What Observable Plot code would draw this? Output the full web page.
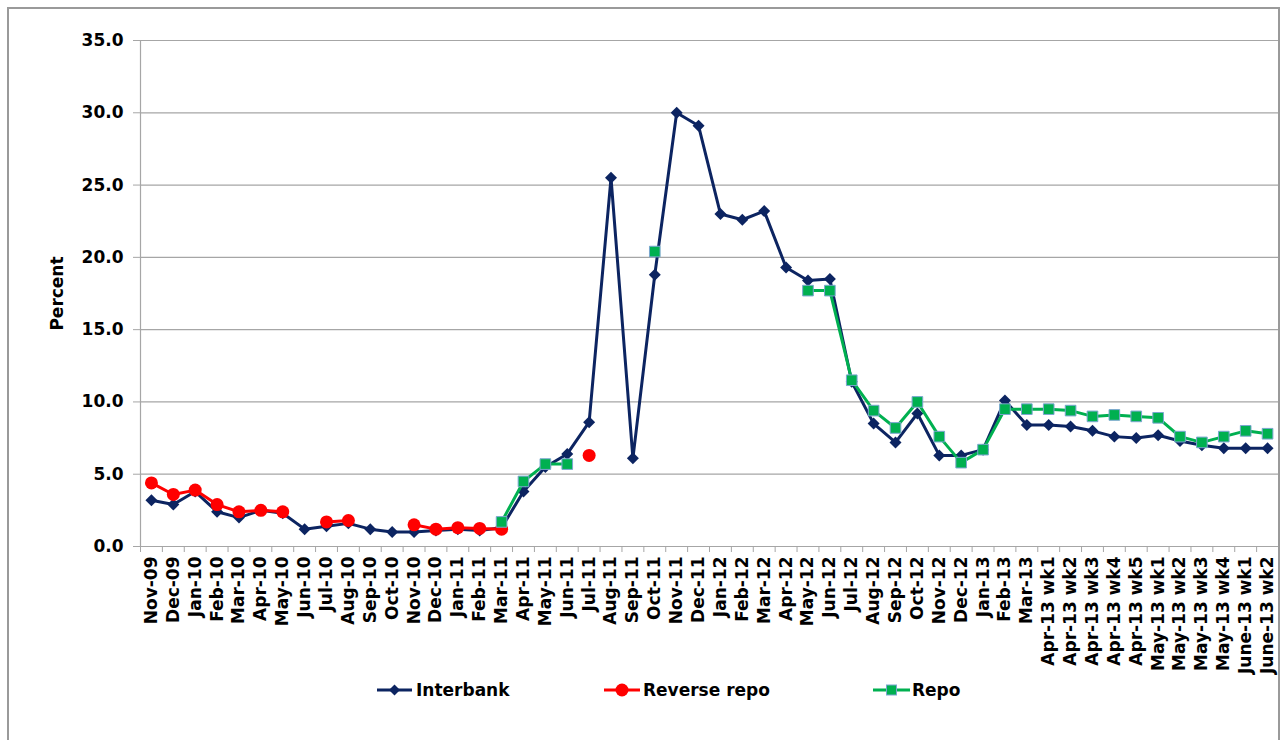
<!DOCTYPE html>
<html><head><meta charset="utf-8">
<script src="https://cdn.jsdelivr.net/npm/d3@7"></script>
<script src="https://cdn.jsdelivr.net/npm/@observablehq/plot@0.6"></script>
<style>
body{margin:0;background:#fff;font-family:"DejaVu Sans",sans-serif;}
#wrap{position:relative;width:1284px;height:740px;overflow:hidden;background:#fff;}
#frame{position:absolute;left:7px;top:7px;width:1273px;height:760px;border:2px solid #9a9a9a;box-sizing:border-box;}
#chart{position:absolute;left:0;top:0;}
#legend{position:absolute;top:678px;left:0;width:1284px;height:24px;font:bold 17px "DejaVu Sans",sans-serif;color:#000;}
.item{position:absolute;top:0;display:flex;align-items:center;height:24px;white-space:nowrap;}
.item svg{margin-right:2px;}
</style></head>
<body>
<div id="wrap">
  <div id="frame"></div>
  <div id="chart"></div>
  <div id="legend"></div>
</div>
<script>
const categories = ["Nov-09","Dec-09","Jan-10","Feb-10","Mar-10","Apr-10","May-10","Jun-10","Jul-10","Aug-10","Sep-10","Oct-10","Nov-10","Dec-10","Jan-11","Feb-11","Mar-11","Apr-11","May-11","Jun-11","Jul-11","Aug-11","Sep-11","Oct-11","Nov-11","Dec-11","Jan-12","Feb-12","Mar-12","Apr-12","May-12","Jun-12","Jul-12","Aug-12","Sep-12","Oct-12","Nov-12","Dec-12","Jan-13","Feb-13","Mar-13","Apr-13 wk1","Apr-13 wk2","Apr-13 wk3","Apr-13 wk4","Apr-13 wk5","May-13 wk1","May-13 wk2","May-13 wk3","May-13 wk4","June-13 wk1","June-13 wk2"];

const interbank = [3.2,2.9,3.8,2.4,2.0,2.5,2.3,1.2,1.4,1.6,1.2,1.0,1.0,1.1,1.2,1.1,1.3,
  3.8,5.5,6.4,8.6,25.5,6.1,18.8,30.0,29.1,
  23.0,22.6,23.2,19.3,18.4,18.5,11.4,8.5,7.2,9.2,6.3,6.3,
  6.7,10.1,8.4,8.4,8.3,8.0,7.6,7.5,7.7,7.3,7.0,6.8,6.8,6.8];

const reverseRepo = [4.4,3.6,3.9,2.9,2.4,2.5,2.4,null,1.7,1.8,null,null,1.5,1.2,1.3,1.25,1.2,
  null,null,null,6.3,null,null,null,null,null,
  null,null,null,null,null,null,null,null,null,null,null,null,
  null,null,null,null,null,null,null,null,null,null,null,null,null,null];

const repo = [null,null,null,null,null,null,null,null,null,null,null,null,null,null,null,null,1.7,
  4.5,5.7,5.7,null,null,null,20.4,null,null,
  null,null,null,null,17.7,17.7,11.5,9.4,8.2,10.0,7.6,5.8,
  6.7,9.5,9.5,9.5,9.4,9.0,9.1,9.0,8.9,7.6,7.2,7.6,8.0,7.8];

const yTicks = [0,5,10,15,20,25,30,35];

const seriesNames = ["Interbank","Reverse repo","Repo"];
const colors = {navy:"#0c2461", red:"#ff0000", green:"#00b050", sqEdge:"#7aa6cf", grid:"#a6a6a6"};

const rows = categories.map((c,i)=>({c, ib: interbank[i], rr: reverseRepo[i], rp: repo[i]}));

const W=1284, H=740, mL=140, mR=6, mT=40, mB=194;
const step = (W-mL-mR)/categories.length;

const chart = Plot.plot({
  width:W, height:H,
  marginLeft:mL, marginRight:mR, marginTop:mT, marginBottom:mB,
  style:{fontFamily:"'DejaVu Sans', sans-serif", fontWeight:"bold", fontSize:"17px", color:"#000", background:"transparent", overflow:"visible"},
  x:{type:"point", domain:categories, padding:0.5},
  y:{domain:[0,35]},
  marks:[
    Plot.gridY(yTicks,{stroke:colors.grid, strokeOpacity:1, strokeWidth:1.2}),
    Plot.ruleY([0],{stroke:colors.grid, strokeWidth:1.2}),
    Plot.ruleX([categories[0]],{dx:-step/2, stroke:colors.grid, strokeWidth:1.2}),
    Plot.axisY(yTicks,{tickSize:7, tickPadding:10, tickFormat:d=>d.toFixed(1), stroke:colors.grid, label:null, fontSize:17, fontWeight:"bold"}),
    Plot.axisX({tickSize:6, tickFormat:()=>"", dx:-step/2, stroke:colors.grid, label:null}),
    Plot.axisX({tickSize:0, tickPadding:10, tickRotate:-90, label:null, fontSize:17, fontWeight:"bold"}),
    Plot.text(["Percent"],{frameAnchor:"left", rotate:-90, dx:-83, textAnchor:"middle", fontSize:17, fontWeight:"bold", fill:"#000"}),
    Plot.line(rows,{x:"c", y:"ib", stroke:colors.navy, strokeWidth:3}),
    Plot.dot(rows,{x:"c", y:"ib", symbol:"diamond2", fill:colors.navy, stroke:"none", r:5.4}),
    Plot.line(rows,{x:"c", y:"rr", stroke:colors.red, strokeWidth:3}),
    Plot.dot(rows,{x:"c", y:"rr", symbol:"circle", fill:colors.red, stroke:"none", r:6.5}),
    Plot.line(rows,{x:"c", y:"rp", stroke:colors.green, strokeWidth:3}),
    Plot.dot(rows,{x:"c", y:"rp", symbol:"square", fill:colors.green, stroke:colors.sqEdge, strokeWidth:1, r:6})
  ]
});
document.getElementById("chart").appendChild(chart);

// legend
const legendPos = [377, 604, 873];
const legend = document.getElementById("legend");
const markerSvg = [
  `<line x1="0" y1="12" x2="35" y2="12" stroke="${colors.navy}" stroke-width="3"/><path d="M17.5 6.5 L23 12 L17.5 17.5 L12 12 Z" fill="${colors.navy}"/>`,
  `<line x1="0" y1="12" x2="36" y2="12" stroke="${colors.red}" stroke-width="3"/><circle cx="18" cy="12" r="6.5" fill="${colors.red}"/>`,
  `<line x1="0" y1="12" x2="37" y2="12" stroke="${colors.green}" stroke-width="3"/><rect x="13.5" y="7" width="10" height="10" fill="${colors.green}" stroke="${colors.sqEdge}" stroke-width="1"/>`
];
seriesNames.forEach((name,i)=>{
  const d = document.createElement("div");
  d.className = "item";
  d.style.left = legendPos[i] + "px";
  d.innerHTML = `<svg width="37" height="24">${markerSvg[i]}</svg><span>${name}</span>`;
  legend.appendChild(d);
});
</script>
</body></html>
